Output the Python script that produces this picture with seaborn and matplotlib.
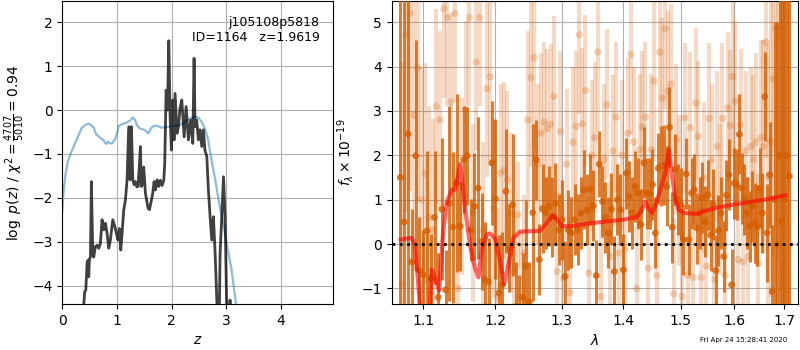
import matplotlib
matplotlib.use('Agg')
import matplotlib.pyplot as plt
import seaborn as sns
import pandas as pd
from matplotlib.ticker import FixedLocator, FixedFormatter, NullLocator

# ---------------- left panel: p(z) and chi2 ----------------
pz_z = [0.00, 0.20, 0.36, 0.41, 0.43, 0.453, 0.471, 0.483, 0.496, 0.515, 0.532, 0.557, 0.575, 0.605,
        0.636, 0.667, 0.697, 0.727, 0.758, 0.789, 0.82, 0.85, 0.88, 0.923, 0.96, 0.99, 1.02, 1.045,
        1.07, 1.094, 1.124, 1.155, 1.185, 1.216, 1.24, 1.265, 1.29, 1.315, 1.338, 1.365, 1.387, 1.43,
        1.445, 1.465, 1.49, 1.521, 1.55, 1.57, 1.595, 1.631, 1.655, 1.68, 1.704, 1.735, 1.765, 1.796,
        1.826, 1.857, 1.875, 1.90, 1.924, 1.949, 1.973, 1.997, 2.022, 2.046, 2.064, 2.10, 2.125, 2.155,
        2.187, 2.23, 2.266, 2.308, 2.35, 2.388, 2.412, 2.43, 2.46, 2.49, 2.52, 2.553, 2.583, 2.61,
        2.645, 2.674, 2.705, 2.736, 2.766, 2.797, 2.828, 2.85, 2.87, 2.888, 2.919, 2.95, 2.98, 3.01,
        3.04, 3.07, 3.09, 3.20, 4.96]
pz_logp = [-7.0, -6.0, -5.0, -4.14, -4.10, -3.49, -3.42, -3.80, -3.40, -3.35, -1.63, -3.26, -3.35, -3.11,
           -3.08, -3.15, -3.04, -2.50, -2.73, -2.58, -2.81, -3.15, -2.96, -2.50, -2.65, -2.81, -2.96, -2.70,
           -3.19, -2.81, -2.28, -2.05, -1.59, -0.38, -1.59, -0.38, -1.59, -1.70, -1.63, -1.75, -1.74, -0.83,
           -1.74, -1.70, -1.30, -1.89, -2.10, -2.24, -2.27, -2.05, -1.90, -1.63, -1.82, -1.59, -1.74, -1.60,
           -1.72, -1.60, -1.21, 0.45, 0.00, 1.58, -0.15, -0.91, 0.23, -0.68, 0.38, -0.53, -0.38, 0.05,
           0.23, -0.61, 0.08, -0.68, -0.23, -0.76, 1.18, -0.38, -0.23, -0.68, -0.45, -0.83, -0.45, -0.91,
           -1.06, -1.82, -2.43, -2.96, -2.43, -3.26, -4.33, -5.0, -5.0, -3.26, -2.43, -1.52, -2.43, -4.6,
           -5.0, -4.33, -5.0, -7.0, -7.0]

chi2_z = [0.00, 0.03, 0.06, 0.10, 0.15, 0.20, 0.26, 0.35, 0.42, 0.48, 0.53, 0.575, 0.60, 0.63, 0.667,
          0.70, 0.75, 0.78, 0.80, 0.84, 0.87, 0.91, 0.96, 1.01, 1.03, 1.10, 1.185, 1.24, 1.29, 1.33,
          1.37, 1.42, 1.50, 1.575, 1.62, 1.674, 1.73, 1.82, 1.91, 2.03, 2.155, 2.25, 2.34, 2.43, 2.49,
          2.55, 2.61, 2.67, 2.73, 2.80, 2.86, 2.92, 2.98, 3.04, 3.09, 3.13, 3.18, 3.30, 4.96]
chi2_curve = [-2.30, -1.75, -1.45, -1.18, -1.00, -0.85, -0.68, -0.42, -0.34, -0.31, -0.35, -0.40, -0.50,
              -0.57, -0.60, -0.64, -0.68, -0.74, -0.77, -0.72, -0.76, -0.76, -0.68, -0.49, -0.36, -0.32,
              -0.28, -0.24, -0.17, -0.22, -0.35, -0.42, -0.45, -0.53, -0.42, -0.36, -0.36, -0.40, -0.39,
              -0.36, -0.34, -0.27, -0.19, -0.15, -0.17, -0.27, -0.42, -0.68, -1.14, -1.59, -2.05, -2.43,
              -2.81, -3.26, -3.57, -3.95, -4.42, -6.0, -8.0]

# ---------------- right panel: spectrum ----------------
dark_wave = [1.070, 1.075, 1.080, 1.085, 1.090, 1.095, 1.100, 1.105, 1.110, 1.115,
             1.120, 1.125, 1.130, 1.135, 1.140, 1.145, 1.150, 1.155, 1.160, 1.165,
             1.170, 1.175, 1.180, 1.185, 1.190, 1.195, 1.200, 1.205, 1.210, 1.215,
             1.220, 1.225, 1.230, 1.235, 1.240, 1.245, 1.250, 1.255, 1.260, 1.265,
             1.270, 1.275, 1.280, 1.285, 1.290, 1.295, 1.300, 1.305, 1.310, 1.315,
             1.320, 1.325, 1.330, 1.335, 1.340, 1.345, 1.350, 1.355, 1.360, 1.365,
             1.370, 1.375, 1.380, 1.385, 1.390, 1.395, 1.400, 1.405, 1.410, 1.415,
             1.420, 1.425, 1.430, 1.435, 1.440, 1.445, 1.450, 1.455, 1.460, 1.465,
             1.470, 1.475, 1.480, 1.485, 1.490, 1.495, 1.500, 1.505, 1.510, 1.515,
             1.520, 1.525, 1.530, 1.535, 1.540, 1.545, 1.550, 1.555, 1.560, 1.565,
             1.570, 1.575, 1.580, 1.585, 1.590, 1.595, 1.600, 1.605, 1.610, 1.615,
             1.620, 1.625, 1.630, 1.635, 1.640, 1.645, 1.650, 1.655, 1.660, 1.665,
             1.670, 1.675, 1.680, 1.685, 1.690, 1.695, 1.700, 1.705, 1.710]
dark_flux = [1.5, 0.5, 2.48, -0.4, 1.99, -0.6, -0.69, 0.3, -0.77, 0.6,
             -1.2, 0.78, -1.03, 0.92, 0.38, 1.38, 0.4, 1.9, 1.99, 0.32,
             0.85, 1.26, 0.06, -0.8, -0.86, 1.83, 1.02, -1.1, -0.92, 1.19,
             -0.09, 0.89, -1.4, -1.5, -1.2, -0.5, -1.3, 0.71, 1.9, -0.35,
             0.8, 0.7, 0.85, 0.62, 0.92, 0.32, 0.55, -0.73, 0.32, 0.25,
             0.55, 0.32, 0.7, 1.23, 0.77, 1.24, 0.86, -0.71, 1.8, 0.96,
             0.6, 0.25, 0.79, -0.62, 1.0, 0.77, -0.58, 1.6, 1.07, 0.7,
             1.3, 1.15, 0.44, 1.83, 1.15, 1.15, 1.34, 0.25, 1.71, 1.75,
             1.79, 1.3, 2.63, 0.38, 1.68, 1.0, 0.92, 0.1, 1.58, 0.1,
             1.15, 1.22, 0.36, 0.7, 1.04, 0.5, 1.1, 0.2, 0.9, -0.6,
             0.3, 0.7, -0.28, 1.1, 1.56, -0.92, 1.37, 1.34, 2.47, 1.26,
             1.0, 0.7, 0.4, 0.85, 0.47, 0.4, 1.26, 0.7, 3.32, 0.25,
             1.56, -1.07, 1.0, 0.0, 2.0, 0.5, 1.0, 2.0, 1.53]
dark_err = [8.0, 6.0, 5.0, 1.2, 2.6, 1.2, 1.0, 1.8, 1.0, 1.5,
            1.0, 1.6, 0.9, 2.2, 1.7, 2.0, 1.0, 1.2, 1.1, 0.7,
            1.2, 1.6, 1.1, 1.3, 1.0, 1.4, 1.8, 1.3, 1.2, 1.4,
            1.0, 1.6, 1.0, 0.8, 1.0, 1.5, 0.9, 2.0, 0.9, 0.8,
            1.0, 0.8, 0.9, 0.9, 0.9, 0.8, 0.9, 0.8, 0.9, 0.8,
            0.8, 0.8, 0.8, 0.9, 0.8, 0.8, 0.8, 0.8, 0.75, 0.8,
            0.8, 0.8, 0.8, 0.8, 0.8, 0.8, 0.8, 0.8, 0.8, 0.8,
            0.8, 0.8, 0.8, 0.8, 0.8, 0.8, 0.8, 0.8, 0.8, 0.9,
            0.9, 0.9, 0.9, 0.8, 0.8, 0.8, 0.8, 0.8, 0.8, 0.8,
            0.8, 0.8, 0.8, 0.8, 0.8, 0.8, 0.8, 0.8, 0.8, 0.8,
            0.8, 0.8, 0.8, 0.8, 0.8, 0.8, 0.8, 0.8, 0.9, 0.8,
            0.8, 0.8, 0.8, 0.8, 0.9, 0.9, 0.9, 0.9, 1.0, 1.1,
            1.2, 1.5, 4.0, 5.0, 5.0, 6.0, 7.0, 8.0, 9.0]

light_wave = [1.0725, 1.0775, 1.0825, 1.0875, 1.0925, 1.0975, 1.1025, 1.1075, 1.1125, 1.1175,
              1.1225, 1.1275, 1.1325, 1.1375, 1.1425, 1.1475, 1.1525, 1.1575, 1.1625, 1.1675,
              1.1725, 1.1775, 1.1825, 1.1875, 1.1925, 1.1975, 1.2025, 1.2075, 1.2125, 1.2175,
              1.2225, 1.2275, 1.2325, 1.2375, 1.2425, 1.2475, 1.2525, 1.2575, 1.2625, 1.2675,
              1.2725, 1.2775, 1.2825, 1.2875, 1.2925, 1.2975, 1.3025, 1.3075, 1.3125, 1.3175,
              1.3225, 1.3275, 1.3325, 1.3375, 1.3425, 1.3475, 1.3525, 1.3575, 1.3625, 1.3675,
              1.3725, 1.3775, 1.3825, 1.3875, 1.3925, 1.3975, 1.4025, 1.4075, 1.4125, 1.4175,
              1.4225, 1.4275, 1.4325, 1.4375, 1.4425, 1.4475, 1.4525, 1.4575, 1.4625, 1.4675,
              1.4725, 1.4775, 1.4825, 1.4875, 1.4925, 1.4975, 1.5025, 1.5075, 1.5125, 1.5175,
              1.5225, 1.5275, 1.5325, 1.5375, 1.5425, 1.5475, 1.5525, 1.5575, 1.5625, 1.5675,
              1.5725, 1.5775, 1.5825, 1.5875, 1.5925, 1.5975, 1.6025, 1.6075, 1.6125, 1.6175,
              1.6225, 1.6275, 1.6325, 1.6375, 1.6425, 1.6475, 1.6525, 1.6575, 1.6625, 1.6675,
              1.6725, 1.6775, 1.6825, 1.6875, 1.6925, 1.6975, 1.7025]
light_flux = [-0.9, 4.72, 5.2, 2.9, 3.97, 1.0, 1.59, 0.6, 0.32, 3.1,
              2.8, 5.3, 5.1, 3.2, 5.2, -1.0, 1.3, 3.03, 5.1, 0.7,
              4.1, 5.1, 0.3, 3.5, 3.77, 0.8, -1.2, 1.6, 1.66, 1.45,
              0.7, -0.6, 0.66, -1.2, -0.2, 2.8, 3.75, 4.2, 1.8, 2.5,
              2.75, 2.6, 2.7, 3.33, -0.62, 2.54, -0.77, 1.8, -1.1, 2.3,
              2.65, 4.72, 2.71, 3.46, -0.65, 2.0, 2.4, 4.33, -1.18, 1.9,
              3.14, -0.28, 2.1, 2.86, -0.2, 2.0, -0.1, 2.5, 4.27, 2.3,
              -1.0, 2.13, 2.64, 2.86, -0.54, 2.13, 3.67, -0.71, 4.32, 3.29,
              4.85, 3.44, 3.6, -1.12, 2.35, 1.2, -1.18, 2.84, -0.7, 2.62,
              -0.75, 3.17, 2.43, -0.75, 1.5, -0.5, 2.83, 1.9, -0.8, 2.2,
              1.0, 2.83, -0.7, 3.07, 2.67, 3.77, 3.22, -0.35, 2.69, -0.4,
              2.1, -0.28, 2.2, 1.9, 2.3, -0.43, 2.4, 2.2, 4.55, 1.5,
              2.3, 3.72, 4.85, 4.67, 4.9, -0.47, 2.0]
light_err = [5.0, 4.0, 4.0, 3.5, 3.0, 3.0, 2.5, 2.5, 2.5, 2.2,
             2.0, 2.0, 2.0, 2.0, 2.0, 2.0, 2.0, 2.0, 2.0, 2.0,
             2.0, 2.0, 2.0, 2.0, 2.0, 2.0, 2.0, 2.0, 2.0, 2.0,
             1.8, 1.5, 1.2, 1.5, 1.3, 2.0, 2.0, 2.0, 1.8, 1.8,
             1.8, 1.8, 1.8, 1.8, 1.8, 1.8, 1.7, 1.7, 1.7, 1.7,
             1.7, 1.8, 1.7, 1.7, 1.7, 1.7, 1.7, 1.8, 1.7, 1.7,
             1.7, 1.7, 1.7, 1.7, 1.7, 1.7, 1.7, 1.7, 1.8, 1.7,
             1.7, 1.7, 1.7, 1.7, 1.7, 1.7, 1.8, 1.7, 1.8, 1.8,
             1.8, 1.8, 1.8, 1.7, 1.7, 1.7, 1.7, 1.7, 1.7, 1.7,
             1.7, 1.7, 1.7, 1.7, 1.7, 1.7, 1.7, 1.7, 1.7, 1.7,
             1.7, 1.7, 1.7, 1.7, 1.7, 1.8, 1.8, 1.7, 1.7, 1.7,
             1.8, 1.8, 1.8, 1.9, 2.0, 2.0, 2.2, 2.4, 2.6, 3.0,
             3.5, 4.0, 4.5, 5.0, 6.0, 7.0, 8.0]

model_wave = [1.0705, 1.0847, 1.0890, 1.0934, 1.0979, 1.1030, 1.1067, 1.1112, 1.1157, 1.1211,
              1.1269, 1.1316, 1.1384, 1.1430, 1.1500, 1.1569, 1.1639, 1.1709, 1.1756, 1.1804,
              1.1875, 1.1920, 1.1995, 1.2067, 1.2125, 1.2165, 1.2213, 1.2262, 1.2362, 1.2663,
              1.2724, 1.2790, 1.2868, 1.2921, 1.2999, 1.3184, 1.3452, 1.3725, 1.4002, 1.4230,
              1.4316, 1.4373, 1.4431, 1.4491, 1.4549, 1.4637, 1.4726, 1.4785, 1.4846, 1.4905,
              1.4964, 1.5055, 1.5300, 1.5422, 1.5673, 1.5991, 1.6316, 1.6648, 1.7016]
model_flux = [0.10, 0.14, -0.03, -0.9, -2.0, -2.8, -2.0, -0.58, -0.77, -1.05,
              0.32, 0.95, 1.22, 1.23, 1.80, 0.80, -0.05, -0.55, -0.75, -0.1,
              0.21, 0.24, 0.12, -0.38, -0.9, -0.65, -0.25, 0.14, 0.28, 0.30,
              0.40, 0.52, 0.65, 0.55, 0.40, 0.41, 0.47, 0.51, 0.55, 0.61,
              0.77, 0.96, 0.80, 0.70, 0.85, 1.23, 1.60, 2.12, 1.53, 1.00,
              0.77, 0.70, 0.68, 0.74, 0.82, 0.89, 0.95, 1.01, 1.10]

wave_ticks = [1.1, 1.2, 1.3, 1.4, 1.5, 1.6, 1.7]
wave_tick_labels = ['1.1', '1.2', '1.3', '1.4', '1.5', '1.6', '1.7']

label_text = 'j105108p5818\nID=1164   z=1.9619'
stamp_text = 'Fri Apr 24 15:28:41 2020'

GRISM_COLOR = (0.835, 0.369, 0.0)

# ---------------- figure ----------------
fig = plt.figure(figsize=(8, 3.5), dpi=100)
ax1 = fig.add_axes([0.0779, 0.1314, 0.3387, 0.8650])
ax2 = fig.add_axes([0.4896, 0.1314, 0.5083, 0.8650])

df_chi = pd.DataFrame({'z': chi2_z, 'v': chi2_curve})
df_pz = pd.DataFrame({'z': pz_z, 'v': pz_logp})
sns.lineplot(data=df_chi, x='z', y='v', ax=ax1, color='tab:blue', alpha=0.5, lw=1.6,
             sort=False, estimator=None)
sns.lineplot(data=df_pz, x='z', y='v', ax=ax1, color='k', alpha=0.75, lw=2.0,
             sort=False, estimator=None)
ax1.set_xlim(0, 4.96)
ax1.set_ylim(-4.42, 2.48)
ax1.set_xticks([0, 1, 2, 3, 4])
ax1.set_yticks([-4, -3, -2, -1, 0, 1, 2])
ax1.grid(True)
ax1.set_xlabel(r'$z$')
ax1.set_ylabel(r'$\log\ p(z)$' + ' / ' + r'$\chi^2=\frac{4707}{5010}=0.94$')
ax1.text(0.95, 0.95, label_text, ha='right', va='top', transform=ax1.transAxes, fontsize=9)

# spectrum
ax2.errorbar(light_wave, light_flux, yerr=light_err, fmt='none', ecolor=GRISM_COLOR,
             alpha=0.22, elinewidth=3, zorder=2)
sns.scatterplot(x=light_wave, y=light_flux, ax=ax2, color=GRISM_COLOR, alpha=0.25, s=28,
                edgecolor='none', zorder=2)
ax2.errorbar(dark_wave, dark_flux, yerr=dark_err, fmt='none', ecolor=GRISM_COLOR,
             alpha=0.8, elinewidth=2.2, zorder=3)
sns.scatterplot(x=dark_wave, y=dark_flux, ax=ax2, color=GRISM_COLOR, alpha=0.8, s=24,
                edgecolor='none', zorder=3)
sns.lineplot(x=model_wave, y=model_flux, ax=ax2, color='r', alpha=0.6, lw=3,
             sort=False, estimator=None, zorder=4)
ax2.axhline(0, color='k', ls=':', lw=2, zorder=5)

ax2.set_xscale('log')
ax2.xaxis.set_major_locator(FixedLocator(wave_ticks))
ax2.xaxis.set_major_formatter(FixedFormatter(wave_tick_labels))
ax2.xaxis.set_minor_locator(NullLocator())
ax2.set_xlim(1.0589, 1.7286)
ax2.set_ylim(-1.35, 5.47)
ax2.set_yticks([-1, 0, 1, 2, 3, 4, 5])
ax2.grid(True)
ax2.set_xlabel(r'$\lambda$')
ax2.set_ylabel(r'$f_\lambda\times10^{-19}$')

fig.text(0.984, 0.02, stamp_text, ha='right', va='bottom', fontsize=5)

fig.savefig('out.png', dpi=100)
